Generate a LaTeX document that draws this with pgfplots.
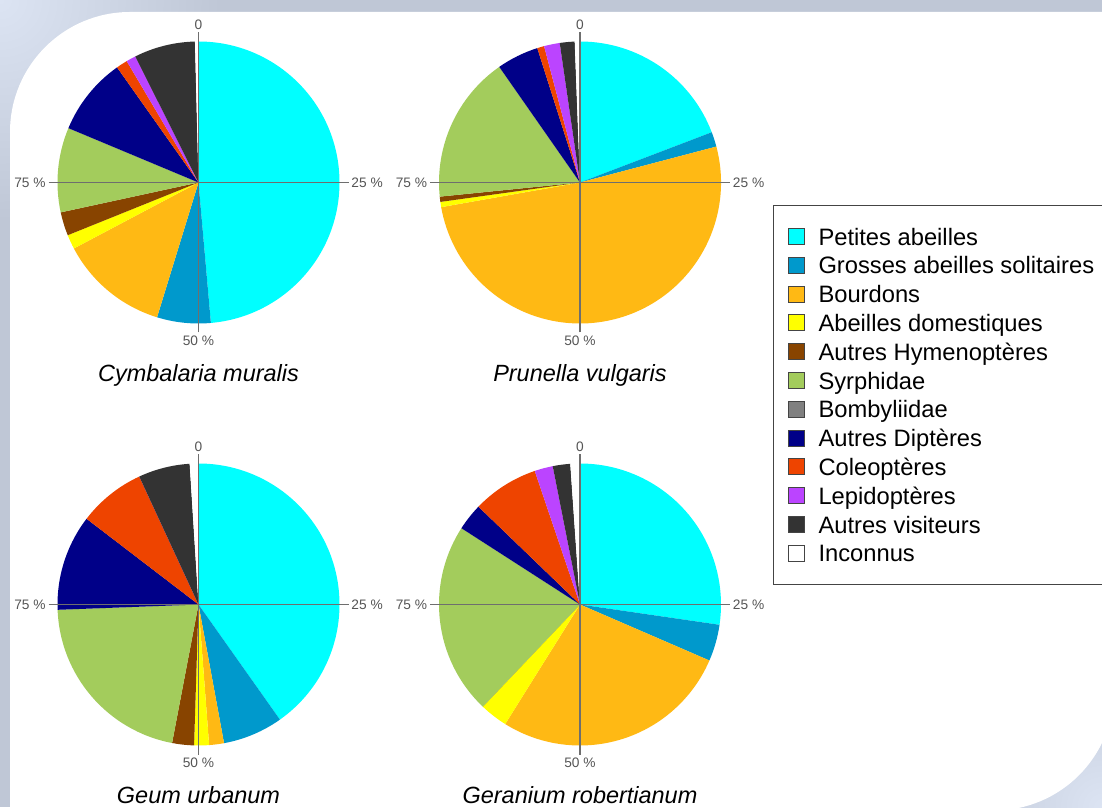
\documentclass[border=0pt]{standalone}
\usepackage{pgfplots}
\pgfplotsset{compat=1.18}
\usepackage{pgfplotstable}
\usepackage{fontspec}
\setmainfont{Liberation Sans}

\definecolor{c0}{HTML}{00FFFF}
\definecolor{c1}{HTML}{0099CC}
\definecolor{c2}{HTML}{FFB914}
\definecolor{c3}{HTML}{FFFF00}
\definecolor{c4}{HTML}{884400}
\definecolor{c5}{HTML}{A3CC5C}
\definecolor{c6}{HTML}{808080}
\definecolor{c7}{HTML}{000088}
\definecolor{c8}{HTML}{EE4400}
\definecolor{c9}{HTML}{BB44FF}
\definecolor{c10}{HTML}{333333}
\definecolor{c11}{HTML}{FFFFFF}
\definecolor{axisgray}{HTML}{6E6E6E}
\definecolor{labgray}{HTML}{555555}
\definecolor{legborder}{HTML}{444444}
\definecolor{frame}{HTML}{BFC7D6}
\definecolor{framelight}{HTML}{DCE4F3}

% share of visits (%) per group, clockwise from the top
\pgfplotstableread{
id  cymb  prun  geum  gera
0   48.6  19.2  40.2  27.3
1   6.15  1.7   6.9   4.2
2   12.5  51.3  1.7   27.4
3   1.65  0.6   1.7   3.2
4   2.7   0.6   2.5   0.0
5   9.7   16.9  21.4  22.0
6   0.0   0.0   0.0   0.0
7   8.9   4.8   11.0  3.1
8   1.3   0.8   7.7   7.6
9   1.1   1.8   0.0   2.1
10  7.0   1.7   5.9   2.0
11  0.4   0.6   1.0   1.1
}\visits

\pgfplotsset{
  pie/.style={anchor=origin, x=0.75pt, y=0.75pt,
    xmin=-160, xmax=160, ymin=-160, ymax=160,
    hide axis, clip=false},
}

% slices of one column, radius 141 px
\newcommand{\pie}[2]{%
  \def\cum{0}%
  \pgfplotsforeachungrouped \sliceidx in {0,...,11}{%
    \pgfplotstablegetelem{\sliceidx}{#1}\of\visits
    \pgfmathsetmacro{\angA}{90-3.6*\cum}%
    \pgfmathsetmacro{\cum}{\cum+\pgfplotsretval}%
    \pgfmathsetmacro{\angB}{90-3.6*\cum}%
    \pgfmathsetmacro{\sx}{141*cos(\angA)}%
    \pgfmathsetmacro{\sy}{141*sin(\angA)}%
    \edef\temp{\noexpand\fill[c\sliceidx] (axis cs:0,0) -- (axis cs:\sx,\sy)
      arc[start angle=\angA, end angle=\angB, radius=105.75pt] -- cycle;}%
    \temp
  }%
  \draw[axisgray, line width=1pt] (axis cs:-150,0) -- (axis cs:150,0)
    (axis cs:0,-150) -- (axis cs:0,150);
  \node[labgray, font=\fontsize{10.3}{12}\selectfont, anchor=south, inner sep=2pt] at (axis cs:0,150) {0};
  \node[labgray, font=\fontsize{10.3}{12}\selectfont, anchor=north, inner sep=2pt] at (axis cs:0,-150) {50 \%};
  \node[labgray, font=\fontsize{10.3}{12}\selectfont, anchor=west, inner sep=2pt] at (axis cs:150,0) {25 \%};
  \node[labgray, font=\fontsize{10.3}{12}\selectfont, anchor=east, inner sep=2pt] at (axis cs:-150,0) {75 \%};
  \node[font=\fontsize{17.6}{20}\selectfont\itshape, anchor=base] at (axis cs:0,-199) {#2};
}

\begin{document}
\begin{tikzpicture}[x=0.75pt, y=0.75pt]
\path[use as bounding box] (0,0) rectangle (1102,807);
\clip (0,0) rectangle (1102,807);
% frame: panel rounded at top left and bottom right only
\fill[frame] (0,0) rectangle (1102,807);
\shade[inner color=framelight, outer color=frame] (0,807) circle (220);
\shade[inner color=framelight, outer color=frame] (1102,0) circle (160);
\fill[white] (10,-10) -- (10,675) arc[start angle=180, end angle=90, radius=120]
  -- (1114,795) -- (1114,116.5) arc[start angle=0, end angle=-90, radius=120]
  -- (10,-3.5) -- cycle;

\begin{axis}[pie, at={(198.5,624.5)}]
\pie{cymb}{Cymbalaria muralis}
\end{axis}

\begin{axis}[pie, at={(580,624.5)}]
\pie{prun}{Prunella vulgaris}
\end{axis}

\begin{axis}[pie, at={(198.5,202.5)}]
\pie{geum}{Geum urbanum}
\end{axis}

\begin{axis}[pie, at={(580,202.5)},
  legend cell align=left,
  legend image code/.code={\filldraw[#1, draw=legborder, line width=0.75pt] (0pt,-6pt) rectangle (12pt,6pt);},
  legend style={at={(1.1031,1.7484)}, anchor=north west, draw=legborder, line width=0.75pt,
    inner xsep=10.5pt, inner ysep=12.5pt, row sep=0pt, column sep=10.5pt,
    nodes={inner sep=0pt, text height=17.2pt, text depth=4.4pt},
    font=\fontsize{17.8}{21.6}\selectfont}]
\pie{gera}{Geranium robertianum}
\addlegendimage{c0}\addlegendentry{Petites abeilles}
\addlegendimage{c1}\addlegendentry{Grosses abeilles solitaires}
\addlegendimage{c2}\addlegendentry{Bourdons}
\addlegendimage{c3}\addlegendentry{Abeilles domestiques}
\addlegendimage{c4}\addlegendentry{Autres Hymenoptères}
\addlegendimage{c5}\addlegendentry{Syrphidae}
\addlegendimage{c6}\addlegendentry{Bombyliidae}
\addlegendimage{c7}\addlegendentry{Autres Diptères}
\addlegendimage{c8}\addlegendentry{Coleoptères}
\addlegendimage{c9}\addlegendentry{Lepidoptères}
\addlegendimage{c10}\addlegendentry{Autres visiteurs}
\addlegendimage{c11}\addlegendentry{Inconnus}
\end{axis}
\end{tikzpicture}
\end{document}
